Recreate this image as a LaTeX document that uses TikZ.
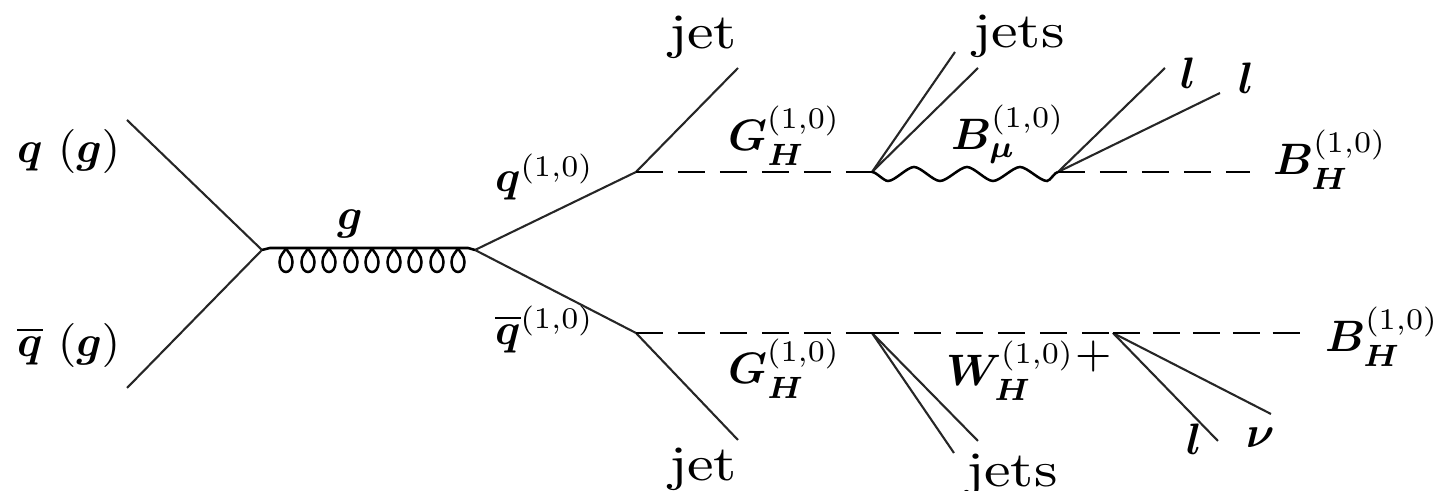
\documentclass[tikz,border=0pt]{standalone}
\usepackage{fix-cm}
\usepackage{graphicx}
\usepackage{bm}
\DeclareMathSizes{8}{8}{7}{5}
\newcommand{\Supr}{^{\scalebox{0.78}{$\scriptstyle(1,0)$}}}
\newcommand{\Subr}[1]{_{\raisebox{0.7pt}{\scalebox{0.8}{$\scriptstyle\bm{#1}$}}}}
\tikzset{
  fermion/.style={line width=0.38pt,black!85},
  scalar/.style={line width=0.42pt,black,dash pattern=on 4.9pt off 2.73pt},
  scalarlast/.style={line width=0.42pt,black,dash pattern=on 4.9pt off 2.36pt},
  boson/.style={line width=0.46pt,black},
  lab/.style={inner sep=0pt,anchor=base west,font=\fontsize{8}{10}\selectfont},
  wordlab/.style={inner sep=0pt,anchor=base west,font=\fontsize{9}{11}\selectfont,xscale=1.17}
}
\begin{document}
\begin{tikzpicture}[x=0.18182pt,y=-0.18182pt]
\useasboundingbox (0,0) rectangle (1438,491);
% vertices and free ends
\coordinate (qin) at (127,120);
\coordinate (qbin) at (127,388);
\coordinate (v1) at (262,250);
\coordinate (v2) at (475,250);
\coordinate (vt) at (636,172);
\coordinate (vb) at (636,333);
\coordinate (jt) at (738,68);
\coordinate (jb) at (738,440);
\coordinate (vj) at (872,172);
\coordinate (j1) at (955,52);
\coordinate (j2) at (978,68);
\coordinate (vl) at (1058,172);
\coordinate (l1) at (1165,68);
\coordinate (l2) at (1220,93);
\coordinate (bt) at (1250,172);
\coordinate (wj) at (872,333);
\coordinate (j3) at (954,453);
\coordinate (j4) at (978,441);
\coordinate (vw) at (1113,333);
\coordinate (l3) at (1218,441);
\coordinate (nu) at (1271,414);
\coordinate (bb) at (1310,333);
% fermions
\draw[fermion] (qin) -- (v1);
\draw[fermion] (qbin) -- (v1);
\draw[fermion] (v2) -- (vt);
\draw[fermion] (v2) -- (vb);
\draw[fermion] (vt) -- (jt);
\draw[fermion] (vb) -- (jb);
\draw[fermion] (vj) -- (j1);
\draw[fermion] (vj) -- (j2);
\draw[fermion] (vl) -- (l1);
\draw[fermion] (vl) -- (l2);
\draw[fermion] (wj) -- (j3);
\draw[fermion] (wj) -- (j4);
\draw[fermion] (vw) -- (l3);
\draw[fermion] (vw) -- (nu);
% scalars
\draw[scalar] (vt) -- (vj);
\draw[scalar] (vl) -- (bt);
\draw[scalar] (vb) -- (wj);
\draw[scalar] (wj) -- (vw);
\draw[scalarlast] (vw) -- (bb);
% gluon
\draw[boson] (v1) -- (270,248) -- (468,248) -- (v2);
\foreach \cx in {286,308,329,351,372,394,415,437,458}{
  \draw[boson] (\cx,248) .. controls (\cx+2,253) and (\cx+6.5,255) .. (\cx+6.5,262)
     .. controls (\cx+6.5,269) and (\cx+3,272) .. (\cx,272)
     .. controls (\cx-3,272) and (\cx-6.5,269) .. (\cx-6.5,262)
     .. controls (\cx-6.5,255) and (\cx-2,253) .. (\cx,248);
}
% wavy B
\draw[boson] (vj) to[out=0,in=180,looseness=0.6] (888,181)
   to[out=0,in=180,looseness=0.6] (914,167)
   to[out=0,in=180,looseness=0.6] (940,181)
   to[out=0,in=180,looseness=0.6] (967,167)
   to[out=0,in=180,looseness=0.6] (993,181)
   to[out=0,in=180,looseness=0.6] (1020,167)
   to[out=0,in=180,looseness=0.6] (1047,181)
   to[out=0,in=180,looseness=0.6] (vl);
% labels
\node[lab] (tq) at (16,163) {$\bm{q}\ (\bm{g})$};
\node[lab] (tqb) at (16,357) {$\overline{\bm{q}}\ (\bm{g})$};
\node[lab] (tg) at (336,230) {$\bm{g}$};
\node[lab] (tqt) at (494,192) {$\bm{q}\Supr$};
\node[lab] (tqbb) at (494,345) {$\overline{\bm{q}}\Supr$};
\node[wordlab] (tjt) at (668,49) {jet};
\node[wordlab] (tjb) at (668,481) {jet};
\node[wordlab] (tjst) at (972,48) {jets};
\node[wordlab] (tjsb) at (965,487) {jets};
\node[lab] (tG1) at (727,151) {$\bm{G}\Subr{H}\Supr$};
\node[lab] (tG2) at (727,384) {$\bm{G}\Subr{H}\Supr$};
\node[lab] (tB) at (950,150) {$\bm{B}\Subr{\mu}\Supr$};
\node[lab] (tW) at (945,386) {$\bm{W}\Subr{H}\Supr\raisebox{3.3pt}{$+$}$};
\node[lab] (tl1) at (1179,89) {$\bm{l}$};
\node[lab] (tl2) at (1237,94) {$\bm{l}$};
\node[lab] (tl3) at (1185,455) {$\bm{l}$};
\node[lab] (tnu) at (1245,448) {$\bm{\nu}$};
\node[lab] (tB1) at (1272,175) {$\bm{B}\Subr{H}\Supr$};
\node[lab] (tB2) at (1324,352) {$\bm{B}\Subr{H}\Supr$};
\end{tikzpicture}
\end{document}
